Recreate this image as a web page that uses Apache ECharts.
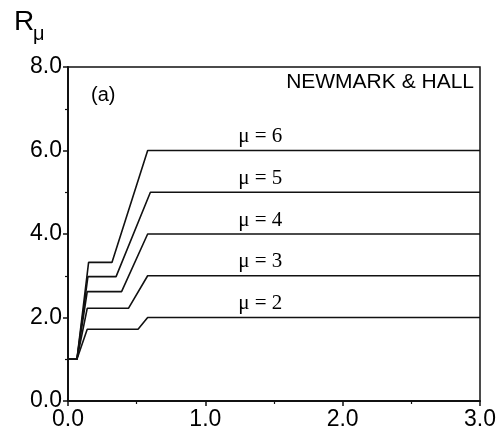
<!DOCTYPE html>
<html>
<head>
<meta charset="utf-8">
<script src="https://cdn.jsdelivr.net/npm/echarts@6/dist/echarts.min.js"></script>
<style>
  html, body { margin: 0; padding: 0; background: #fff; }
  #chart { width: 500px; height: 441px; }
</style>
</head>
<body>
<div id="chart"></div>
<script>
// ductility levels and the corner points of each Newmark & Hall curve
const mus = [2, 3, 4, 5, 6];
const periods = [
  [0, 0.065, 0.14, 0.51, 0.58, 3.0],
  [0, 0.065, 0.14, 0.44, 0.58, 3.0],
  [0, 0.065, 0.14, 0.39, 0.58, 3.0],
  [0, 0.065, 0.145, 0.35, 0.60, 3.0],
  [0, 0.065, 0.15, 0.32, 0.58, 3.0]
];
const rValues = [
  [1.0, 1.0, 1.72, 1.72, 2.0, 2.0],
  [1.0, 1.0, 2.22, 2.22, 3.0, 3.0],
  [1.0, 1.0, 2.62, 2.62, 4.0, 4.0],
  [1.0, 1.0, 2.98, 2.98, 5.0, 5.0],
  [1.0, 1.0, 3.32, 3.32, 6.0, 6.0]
];
const labelPeriod = 1.4;

const chart = echarts.init(document.getElementById('chart'));

const series = mus.map((mu, i) => ({
  name: 'mu' + mu,
  type: 'line',
  symbol: 'none',
  silent: true,
  lineStyle: { color: '#111', width: 1.6 },
  data: periods[i].map((t, j) => [t, rValues[i][j]]),
  markPoint: {
    symbol: 'circle',
    symbolSize: 0,
    silent: true,
    data: [{ coord: [labelPeriod, mu] }],
    label: {
      show: true,
      formatter: 'μ = ' + mu,
      color: '#000',
      fontFamily: 'Liberation Serif',
      fontSize: 21,
      offset: [0, -14]
    }
  }
}));

const option = {
  animation: false,
  backgroundColor: '#fff',
  grid: {
    left: 68, right: 20, top: 67, bottom: 40,
    show: true,
    borderColor: '#111',
    borderWidth: 1.5
  },
  xAxis: {
    type: 'value',
    min: 0, max: 3, interval: 1,
    axisLine: { show: true, lineStyle: { color: '#111', width: 2 } },
    axisTick: { show: true, length: 5, lineStyle: { color: '#111', width: 1.5 } },
    minorTick: { show: true, splitNumber: 2, length: 3, lineStyle: { color: '#111', width: 1.2 } },
    splitLine: { show: false },
    axisLabel: {
      color: '#000', fontFamily: 'Liberation Sans', fontSize: 23, margin: 7,
      formatter: v => v.toFixed(1)
    }
  },
  yAxis: {
    type: 'value',
    min: 0, max: 8, interval: 2,
    axisLine: { show: true, lineStyle: { color: '#111', width: 2 } },
    axisTick: { show: true, length: 5, lineStyle: { color: '#111', width: 1.5 } },
    minorTick: { show: true, splitNumber: 2, length: 3, lineStyle: { color: '#111', width: 1.2 } },
    splitLine: { show: false },
    axisLabel: {
      color: '#000', fontFamily: 'Liberation Sans', fontSize: 23, margin: 6,
      formatter: v => v.toFixed(1)
    }
  },
  graphic: [
    { type: 'text', left: 14, top: 8, style: { text: 'R', fontFamily: 'Liberation Sans', fontSize: 28, fill: '#000' } },
    { type: 'text', left: 33, top: 24, style: { text: 'μ', fontFamily: 'Liberation Sans', fontSize: 20, fill: '#000' } },
    { type: 'text', left: 91, top: 85, style: { text: '(a)', fontFamily: 'Liberation Sans', fontSize: 20, fill: '#000' } },
    { type: 'text', right: 26, top: 72, style: { text: 'NEWMARK & HALL', fontFamily: 'Liberation Sans', fontSize: 21, fill: '#000' } }
  ],
  series: series
};

chart.setOption(option);
window.addEventListener('resize', () => chart.resize());
</script>
</body>
</html>
